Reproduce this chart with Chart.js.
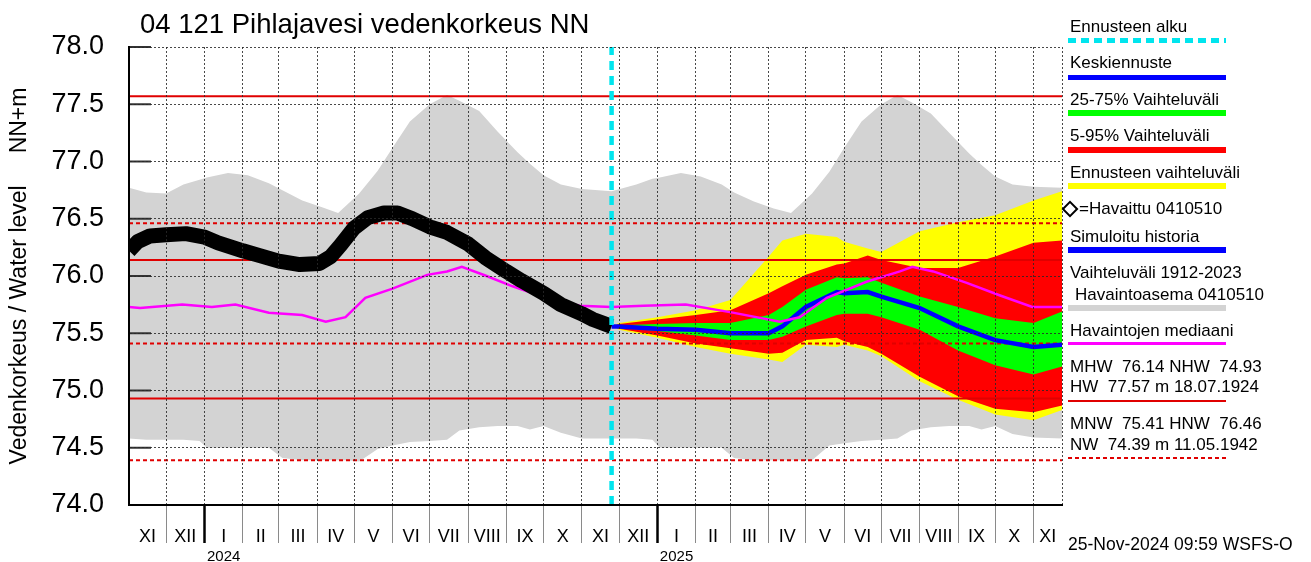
<!DOCTYPE html>
<html>
<head>
<meta charset="utf-8">
<title>Pihlajavesi vedenkorkeus</title>
<script src="https://cdn.jsdelivr.net/npm/chart.js@4/dist/chart.umd.min.js"></script>
<style>
html, body { margin: 0; padding: 0; background: #fff; }
#wrap { position: relative; width: 1311px; height: 562px; overflow: hidden;
        font-family: "Liberation Sans", Arial, sans-serif; color: #000; }
#wrap canvas { position: absolute; left: 0; top: 0; }
.t { position: absolute; left: 1070px; white-space: pre; line-height: 1; font-size: 17px; }
.sw { position: absolute; left: 1068px; width: 158px; }
</style>
</head>
<body>
<div id="wrap">
    <canvas id="chart" width="1311" height="562"></canvas>

    <div class="t" style="left:140px; top:10px; font-size:27.5px;">04 121 Pihlajavesi vedenkorkeus NN</div>

    <div class="t" style="top:18px;">Ennusteen alku</div>
    <div class="sw" style="top:38px; height:5px; background:repeating-linear-gradient(90deg,#00e5ee 0 8px,transparent 8px 13px);"></div>
    <div class="t" style="top:54px;">Keskiennuste</div>
    <div class="sw" style="top:75px; height:5px; background:#0000ff;"></div>
    <div class="t" style="top:91px;">25-75% Vaihteluväli</div>
    <div class="sw" style="top:110px; height:6px; background:#00ff00;"></div>
    <div class="t" style="top:127px;">5-95% Vaihteluväli</div>
    <div class="sw" style="top:147px; height:6px; background:#ff0000;"></div>
    <div class="t" style="top:164px;">Ennusteen vaihteluväli</div>
    <div class="sw" style="top:183px; height:6px; background:#ffff00;"></div>
    <div style="position:absolute; left:1064px; top:203px; width:8px; height:8px; border:2.5px solid #000; transform:rotate(45deg);"></div>
    <div class="t" style="left:1079px; top:200px;">=Havaittu 0410510</div>
    <div class="t" style="top:228px;">Simuloitu historia</div>
    <div class="sw" style="top:247px; height:6px; background:#0000ff;"></div>
    <div class="t" style="top:264px;">Vaihteluväli 1912-2023</div>
    <div class="t" style="left:1075px; top:286px;">Havaintoasema 0410510</div>
    <div class="sw" style="top:305px; height:6px; background:#d3d3d3;"></div>
    <div class="t" style="top:322px;">Havaintojen mediaani</div>
    <div class="sw" style="top:342px; height:3px; background:#ff00ff;"></div>
    <div class="t" style="top:358px;">MHW  76.14 NHW  74.93</div>
    <div class="t" style="top:378px;">HW  77.57 m 18.07.1924</div>
    <div class="sw" style="top:400px; height:2px; background:#e00000;"></div>
    <div class="t" style="top:415px;">MNW  75.41 HNW  76.46</div>
    <div class="t" style="top:436px;">NW  74.39 m 11.05.1942</div>
    <div class="sw" style="top:457px; height:2px; background:repeating-linear-gradient(90deg,#e00000 0 4px,transparent 4px 7px);"></div>

    <div class="t" style="left:1068px; top:536px; font-size:17.5px;">25-Nov-2024 09:59 WSFS-O</div>
</div>

<script>
// time axis
var startDate = '2023-11-01';
var endDate = '2025-11-24';
var forecastStart = '2024-11-25';
var monthStarts = ['2023-11-01', '2023-12-01', '2024-01-01', '2024-02-01', '2024-03-01', '2024-04-01',
    '2024-05-01', '2024-06-01', '2024-07-01', '2024-08-01', '2024-09-01', '2024-10-01', '2024-11-01',
    '2024-12-01', '2025-01-01', '2025-02-01', '2025-03-01', '2025-04-01', '2025-05-01', '2025-06-01',
    '2025-07-01', '2025-08-01', '2025-09-01', '2025-10-01', '2025-11-01'];
var monthLabels = ['XI', 'XII', 'I', 'II', 'III', 'IV', 'V', 'VI', 'VII', 'VIII', 'IX', 'X', 'XI',
    'XII', 'I', 'II', 'III', 'IV', 'V', 'VI', 'VII', 'VIII', 'IX', 'X', 'XI'];
var yearStarts = ['2024-01-01', '2025-01-01'];
var yearLabels = ['2024', '2025'];

// Vaihteluväli 1912-2023 (grey band)
var climDates = ['2023-11-01', '2023-11-15', '2023-12-01', '2023-12-15', '2023-12-28', '2024-01-03',
    '2024-01-20', '2024-02-05', '2024-02-22', '2024-03-04', '2024-03-20', '2024-04-05', '2024-04-18',
    '2024-04-25', '2024-05-05', '2024-05-20', '2024-06-01', '2024-06-15', '2024-07-01', '2024-07-15',
    '2024-07-25', '2024-08-10', '2024-08-25', '2024-09-10', '2024-09-20', '2024-10-01', '2024-10-15',
    '2024-11-01', '2024-11-25', '2024-12-15', '2024-12-28', '2025-01-03', '2025-01-20', '2025-02-05',
    '2025-02-22', '2025-03-04', '2025-03-20', '2025-04-05', '2025-04-19', '2025-04-26', '2025-05-06',
    '2025-05-20', '2025-06-01', '2025-06-15', '2025-07-01', '2025-07-14', '2025-07-25', '2025-08-10',
    '2025-08-25', '2025-09-10', '2025-09-20', '2025-10-01', '2025-10-15', '2025-11-01', '2025-11-24'];
var climHigh = [76.77, 76.73, 76.72, 76.80, 76.84, 76.86, 76.90, 76.88, 76.81, 76.75, 76.66, 76.60, 76.55,
    76.62, 76.72, 76.92, 77.12, 77.35, 77.50, 77.58, 77.53, 77.44, 77.26, 77.08, 76.98, 76.88, 76.80,
    76.76, 76.74, 76.80, 76.85, 76.86, 76.90, 76.87, 76.80, 76.73, 76.65, 76.59, 76.55, 76.62, 76.72,
    76.91, 77.12, 77.35, 77.50, 77.58, 77.52, 77.42, 77.25, 77.07, 76.97, 76.87, 76.80, 76.78, 76.77];
var climLow = [74.58, 74.57, 74.57, 74.57, 74.56, 74.50, 74.50, 74.50, 74.50, 74.41, 74.39, 74.39, 74.39,
    74.39, 74.38, 74.49, 74.52, 74.55, 74.56, 74.57, 74.65, 74.68, 74.69, 74.69, 74.66, 74.69, 74.63,
    74.58, 74.58, 74.58, 74.57, 74.50, 74.50, 74.50, 74.50, 74.41, 74.39, 74.39, 74.39, 74.39, 74.39,
    74.52, 74.54, 74.56, 74.57, 74.58, 74.65, 74.68, 74.69, 74.69, 74.66, 74.69, 74.62, 74.59, 74.58];

// Havaittu 0410510
var obsDates = ['2023-11-01', '2023-11-08', '2023-11-18', '2023-12-01', '2023-12-17', '2024-01-01',
    '2024-01-12', '2024-02-01', '2024-02-14', '2024-03-01', '2024-03-18', '2024-04-03', '2024-04-12',
    '2024-04-20', '2024-05-01', '2024-05-12', '2024-05-25', '2024-06-05', '2024-06-17', '2024-07-01',
    '2024-07-15', '2024-08-01', '2024-08-15', '2024-09-01', '2024-09-13', '2024-10-01', '2024-10-15',
    '2024-11-01', '2024-11-10', '2024-11-25'];
var obsLevel = [76.22, 76.30, 76.35, 76.36, 76.37, 76.34, 76.29, 76.22, 76.18, 76.13, 76.10, 76.11, 76.17,
    76.27, 76.42, 76.51, 76.55, 76.55, 76.50, 76.43, 76.38, 76.28, 76.16, 76.04, 75.96, 75.85, 75.75,
    75.67, 75.62, 75.56];

// Havaintojen mediaani
var medDates = ['2023-11-01', '2023-11-10', '2023-12-14', '2024-01-07', '2024-01-26', '2024-02-22',
    '2024-03-20', '2024-04-08', '2024-04-24', '2024-05-10', '2024-06-01', '2024-06-29', '2024-07-15',
    '2024-07-27', '2024-08-16', '2024-09-06', '2024-10-03', '2024-10-30', '2024-11-25', '2024-12-21',
    '2025-01-24', '2025-03-03', '2025-04-10', '2025-04-26', '2025-05-18', '2025-06-19', '2025-07-16',
    '2025-07-26', '2025-08-12', '2025-09-08', '2025-10-05', '2025-10-31', '2025-11-24'];
var medLevel = [75.73, 75.72, 75.75, 75.73, 75.75, 75.68, 75.66, 75.60, 75.64, 75.81, 75.89, 76.01, 76.04,
    76.08, 76.00, 75.91, 75.81, 75.74, 75.73, 75.74, 75.75, 75.68, 75.60, 75.64, 75.81, 75.95, 76.04,
    76.08, 76.04, 75.94, 75.83, 75.73, 75.73];

// forecast
var fcDates = ['2024-11-25', '2024-12-01', '2025-01-01', '2025-02-01', '2025-03-01', '2025-04-01',
    '2025-04-12', '2025-05-01', '2025-05-26', '2025-06-01', '2025-06-20', '2025-07-01', '2025-08-01',
    '2025-09-01', '2025-10-01', '2025-11-01', '2025-11-24'];
var fcMax = [75.56, 75.59, 75.64, 75.70, 75.79, 76.17, 76.31, 76.37, 76.34, 76.30, 76.24, 76.21, 76.39,
    76.47, 76.53, 76.66, 76.74];
var fc95 = [75.56, 75.58, 75.62, 75.66, 75.70, 75.85, 75.91, 76.01, 76.10, 76.11, 76.18, 76.14, 76.07,
    76.07, 76.17, 76.29, 76.31];
var fc75 = [75.56, 75.57, 75.58, 75.59, 75.59, 75.66, 75.73, 75.88, 75.99, 75.98, 75.99, 75.94, 75.82,
    75.73, 75.63, 75.59, 75.69];
var fcMid = [75.56, 75.56, 75.54, 75.53, 75.50, 75.50, 75.56, 75.73, 75.86, 75.85, 75.86, 75.82, 75.72,
    75.56, 75.44, 75.38, 75.40];
var fc25 = [75.56, 75.55, 75.52, 75.48, 75.44, 75.44, 75.47, 75.56, 75.66, 75.67, 75.67, 75.64, 75.53,
    75.35, 75.22, 75.14, 75.21];
var fc5 = [75.56, 75.54, 75.48, 75.41, 75.37, 75.32, 75.33, 75.44, 75.46, 75.43, 75.38, 75.32, 75.12,
    74.95, 74.84, 74.81, 74.87];
var fcMin = [75.56, 75.53, 75.46, 75.38, 75.32, 75.27, 75.25, 75.40, 75.38, 75.40, 75.35, 75.30, 75.08,
    74.92, 74.79, 74.74, 74.83];

// reference levels
var refNames = ['HW', 'MHW', 'NHW', 'HNW', 'MNW', 'NW'];
var refLevels = [77.57, 76.14, 74.93, 76.46, 75.41, 74.39];

var START = Date.parse(startDate);
function dayNum(s) {
    return (Date.parse(s) - START) / 86400000;
}
function pts(dates, vals) {
    return dates.map(function (d, i) { return {x: dayNum(d), y: vals[i]}; });
}

var xEnd = dayNum(endDate);

// month boundaries get grid lines, month middles get the labels
var xTicks = [];
monthStarts.forEach(function (m, i) {
    var a = dayNum(m);
    var b = i + 1 < monthStarts.length ? dayNum(monthStarts[i + 1]) : xEnd;
    if (a > 0) xTicks.push({value: a, kind: yearStarts.indexOf(m) >= 0 ? 'year' : 'month', label: ''});
    xTicks.push({value: (a + b) / 2, kind: 'mid', label: monthLabels[i]});
});
xTicks.push({value: xEnd, kind: 'end', label: ''});

var yearTicks = yearStarts.map(function (s) { return dayNum(s) + 15.5; });

var GRID = 'rgba(40,40,40,0.85)';
var NONE = 'rgba(0,0,0,0)';

function tickKind(c) {
    var t = xTicks[c.index];
    return t ? t.kind : 'mid';
}

var lineDefaults = {pointRadius: 0, fill: false, tension: 0};

var refSets = refNames.map(function (n, i) {
    var dashed = n === 'HNW' || n === 'MNW' || n === 'NW';
    return Object.assign({
        label: n,
        data: [{x: 0, y: refLevels[i]}, {x: xEnd, y: refLevels[i]}],
        borderColor: '#e00000',
        borderWidth: 2,
        borderDash: dashed ? [4, 3] : []
    }, lineDefaults);
});

function band(label, color, hi, lo, dates) {
    return [
        Object.assign({}, lineDefaults, {label: label, data: pts(dates, hi), borderWidth: 0,
            borderColor: color, backgroundColor: color, fill: '+1'}),
        Object.assign({}, lineDefaults, {label: label + ' ala', data: pts(dates, lo), borderWidth: 0,
            borderColor: color})
    ];
}

// inward tick marks on the level axis
var innerTicks = {
    id: 'innerTicks',
    afterDatasetsDraw: function (chart) {
        var y = chart.scales.y, a = chart.chartArea, ctx = chart.ctx;
        ctx.save();
        ctx.strokeStyle = '#333';
        ctx.lineWidth = 2;
        y.ticks.forEach(function (t) {
            var py = y.getPixelForValue(t.value);
            ctx.beginPath();
            ctx.moveTo(a.left, py);
            ctx.lineTo(a.left + 22, py);
            ctx.stroke();
        });
        ctx.restore();
    }
};

Chart.defaults.font.family = '"Liberation Sans", Arial, sans-serif';
Chart.defaults.color = '#000';

var datasets = [
    Object.assign({}, lineDefaults, {
        label: 'Ennusteen alku',
        data: [{x: dayNum(forecastStart), y: 74}, {x: dayNum(forecastStart), y: 78}],
        borderColor: '#00e5ee', borderWidth: 4.5, borderDash: [9, 6]
    }),
    Object.assign({}, lineDefaults, {
        label: 'Havaittu 0410510', data: pts(obsDates, obsLevel),
        borderColor: '#000', borderWidth: 15, borderJoinStyle: 'round'
    }),
    Object.assign({}, lineDefaults, {
        label: 'Havaintojen mediaani', data: pts(medDates, medLevel),
        borderColor: '#ff00ff', borderWidth: 2.5
    }),
    Object.assign({}, lineDefaults, {
        label: 'Keskiennuste', data: pts(fcDates, fcMid),
        borderColor: '#0000ff', borderWidth: 4.5
    })
].concat(refSets)
 .concat(band('25-75% Vaihteluväli', '#00ff00', fc75, fc25, fcDates))
 .concat(band('5-95% Vaihteluväli', '#ff0000', fc95, fc5, fcDates))
 .concat(band('Ennusteen vaihteluväli', '#ffff00', fcMax, fcMin, fcDates))
 .concat(band('Vaihteluväli 1912-2023', '#d3d3d3', climHigh, climLow, climDates));

new Chart(document.getElementById('chart'), {
    type: 'line',
    data: {datasets: datasets},
    options: {
        responsive: false,
        animation: false,
        events: [],
        layout: {padding: {top: 47, right: 249, bottom: 0, left: 0}},
        plugins: {legend: {display: false}, tooltip: {enabled: false}},
        scales: {
            x: {
                type: 'linear', position: 'bottom', min: 0, max: xEnd, weight: 0,
                afterBuildTicks: function (s) {
                    s.ticks = xTicks.map(function (t) { return {value: t.value}; });
                },
                afterFit: function (s) { s.height = 40; },
                ticks: {
                    autoSkip: false, maxRotation: 0, minRotation: 0,
                    font: {size: 18}, color: '#000', padding: -17,
                    callback: function (v, i) { return xTicks[i] ? xTicks[i].label : ''; }
                },
                grid: {
                    z: 1, lineWidth: 1, tickLength: 38,
                    color: function (c) { return tickKind(c) === 'mid' ? NONE : GRID; },
                    tickColor: function (c) {
                        var k = tickKind(c);
                        return k === 'year' ? '#000' : (k === 'month' ? '#8a8a8a' : NONE);
                    },
                    tickWidth: function (c) { return tickKind(c) === 'year' ? 2.5 : 1; }
                },
                border: {z: 2, color: '#000', width: 2, dash: [2, 2]}
            },
            xYear: {
                type: 'linear', position: 'bottom', min: 0, max: xEnd, weight: 1,
                afterBuildTicks: function (s) {
                    s.ticks = yearTicks.map(function (v) { return {value: v}; });
                },
                afterFit: function (s) { s.height = 17; },
                ticks: {
                    autoSkip: false, maxRotation: 0, minRotation: 0,
                    font: {size: 15}, color: '#000', padding: 3,
                    callback: function (v, i) { return yearLabels[i]; }
                },
                grid: {display: false, drawTicks: false},
                border: {display: false}
            },
            y: {
                min: 74, max: 78,
                afterFit: function (s) { s.width = 129; },
                ticks: {
                    stepSize: 0.5, font: {size: 27}, color: '#000', padding: 25,
                    callback: function (v) { return v.toFixed(1); }
                },
                grid: {
                    z: 1, drawTicks: false, lineWidth: 1,
                    color: function (c) { return c.tick && c.tick.value === 74 ? NONE : GRID; }
                },
                border: {z: 2, color: '#000', width: 2, dash: [2, 2]},
                title: {
                    display: true, text: 'Vedenkorkeus / Water level     NN+m',
                    font: {size: 23}, color: '#000', padding: {top: 6, bottom: 0}
                }
            }
        }
    },
    plugins: [innerTicks]
});
</script>
</body>
</html>
